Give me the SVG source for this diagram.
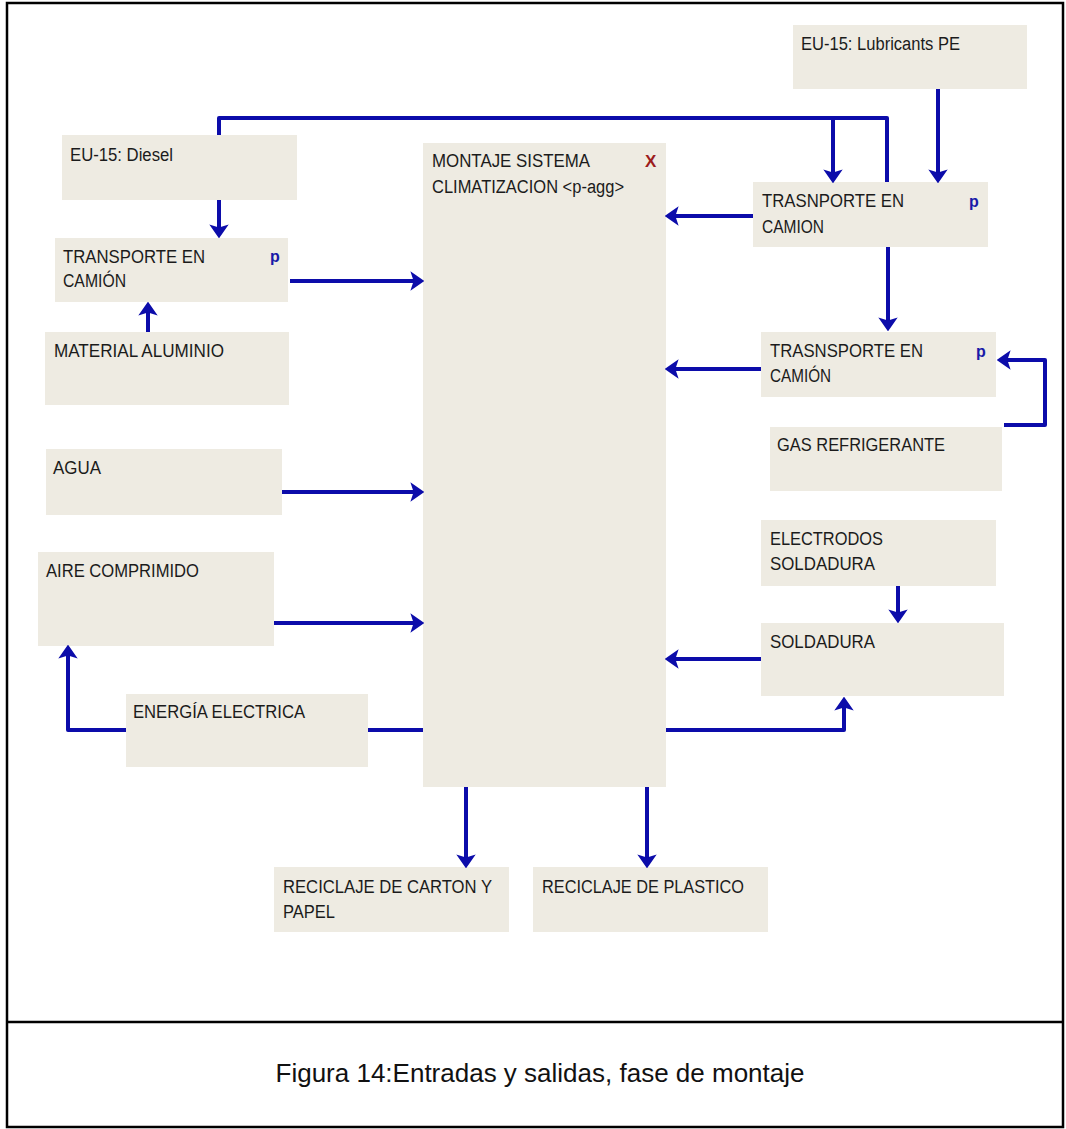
<svg xmlns="http://www.w3.org/2000/svg" width="1066" height="1129" viewBox="0 0 1066 1129">
<style>
.box{fill:#eeebe2}
.t{font-family:"Liberation Sans",Arial,sans-serif;font-size:18px;fill:#1b1b1b}
.p{font-family:"Liberation Sans",Arial,sans-serif;font-size:16px;font-weight:bold;fill:#1a1aa8}
.x{font-family:"Liberation Sans",Arial,sans-serif;font-size:17px;font-weight:bold;fill:#9c1c1c}
.c{fill:none;stroke:#0c0caa;stroke-width:4;stroke-linejoin:round}
.a{marker-end:url(#ah)}
.cap{font-family:"Liberation Sans",Arial,sans-serif;font-size:26px;fill:#111}
</style>
<defs>
<marker id="ah" markerUnits="userSpaceOnUse" markerWidth="14" markerHeight="20" viewBox="0 0 13 18" refX="8" refY="9" orient="auto">
<path d="M0,0 L13,9 L0,18 L3,9 z" fill="#0c0caa"/>
</marker>
</defs>
<rect x="7" y="3" width="1056" height="1124" fill="#fff" stroke="#000" stroke-width="2.5"/>
<line x1="7" y1="1022" x2="1063" y2="1022" stroke="#000" stroke-width="2.5"/>

<g id="n-lubricants"><rect class="box" x="793" y="25" width="234" height="64"/><text class="t" x="801" y="50" textLength="159" lengthAdjust="spacingAndGlyphs">EU-15: Lubricants PE</text></g>
<g id="n-diesel"><rect class="box" x="62" y="135" width="235" height="65"/><text class="t" x="70" y="161" textLength="103" lengthAdjust="spacingAndGlyphs">EU-15: Diesel</text></g>
<g id="n-trasnporte"><rect class="box" x="753" y="182" width="235" height="65"/><text class="t" x="762" y="207" textLength="142" lengthAdjust="spacingAndGlyphs">TRASNPORTE EN</text><text class="t" x="762" y="233" textLength="62" lengthAdjust="spacingAndGlyphs">CAMION</text><text class="p" x="969" y="207">p</text></g>
<g id="n-montaje"><rect class="box" x="423" y="143" width="243" height="644"/><text class="t" x="432" y="167" textLength="158" lengthAdjust="spacingAndGlyphs">MONTAJE SISTEMA</text><text class="t" x="432" y="193" textLength="192" lengthAdjust="spacingAndGlyphs">CLIMATIZACION &lt;p-agg&gt;</text><text class="x" x="645" y="167">X</text></g>
<g id="n-transporte"><rect class="box" x="55" y="238" width="233" height="64"/><text class="t" x="63" y="263" textLength="142" lengthAdjust="spacingAndGlyphs">TRANSPORTE EN</text><text class="t" x="63" y="287" textLength="63" lengthAdjust="spacingAndGlyphs">CAMIÓN</text><text class="p" x="270" y="262">p</text></g>
<g id="n-aluminio"><rect class="box" x="45" y="332" width="244" height="73"/><text class="t" x="54" y="357" textLength="170" lengthAdjust="spacingAndGlyphs">MATERIAL ALUMINIO</text></g>
<g id="n-trasnsporte"><rect class="box" x="761" y="332" width="235" height="65"/><text class="t" x="770" y="357" textLength="153" lengthAdjust="spacingAndGlyphs">TRASNSPORTE EN</text><text class="t" x="770" y="382" textLength="61" lengthAdjust="spacingAndGlyphs">CAMIÓN</text><text class="p" x="976" y="357">p</text></g>
<g id="n-gas"><rect class="box" x="770" y="427" width="232" height="64"/><text class="t" x="777" y="451" textLength="168" lengthAdjust="spacingAndGlyphs">GAS REFRIGERANTE</text></g>
<g id="n-agua"><rect class="box" x="46" y="449" width="236" height="66"/><text class="t" x="53" y="474" textLength="48" lengthAdjust="spacingAndGlyphs">AGUA</text></g>
<g id="n-electrodos"><rect class="box" x="761" y="520" width="235" height="66"/><text class="t" x="770" y="545" textLength="113" lengthAdjust="spacingAndGlyphs">ELECTRODOS</text><text class="t" x="770" y="570" textLength="105" lengthAdjust="spacingAndGlyphs">SOLDADURA</text></g>
<g id="n-aire"><rect class="box" x="38" y="552" width="236" height="94"/><text class="t" x="46" y="577" textLength="153" lengthAdjust="spacingAndGlyphs">AIRE COMPRIMIDO</text></g>
<g id="n-soldadura"><rect class="box" x="761" y="623" width="243" height="73"/><text class="t" x="770" y="648" textLength="105" lengthAdjust="spacingAndGlyphs">SOLDADURA</text></g>
<g id="n-energia"><rect class="box" x="126" y="694" width="242" height="73"/><text class="t" x="133" y="718" textLength="172" lengthAdjust="spacingAndGlyphs">ENERGÍA ELECTRICA</text></g>
<g id="n-carton"><rect class="box" x="274" y="867" width="235" height="65"/><text class="t" x="283" y="893" textLength="209" lengthAdjust="spacingAndGlyphs">RECICLAJE DE CARTON Y</text><text class="t" x="283" y="918" textLength="52" lengthAdjust="spacingAndGlyphs">PAPEL</text></g>
<g id="n-plastico"><rect class="box" x="533" y="867" width="235" height="65"/><text class="t" x="542" y="893" textLength="202" lengthAdjust="spacingAndGlyphs">RECICLAJE DE PLASTICO</text></g>

<g id="connectors">
<path class="c a" d="M219,135 V118 H833 V178"/>
<path class="c" d="M887,182 V118 H833"/>
<path class="c a" d="M938,89 V178"/>
<path class="c a" d="M753,216 H670"/>
<path class="c a" d="M888,247 V326"/>
<path class="c a" d="M761,369 H670"/>
<path class="c a" d="M1004,425 H1045 V360 H1002"/>
<path class="c a" d="M898,586 V618"/>
<path class="c a" d="M761,659 H670"/>
<path class="c a" d="M666,730 H844 V702"/>
<path class="c a" d="M290,281 H419"/>
<path class="c a" d="M148,332 V307"/>
<path class="c a" d="M219,200 V233"/>
<path class="c a" d="M282,492 H419"/>
<path class="c a" d="M274,623 H419"/>
<path class="c a" d="M126,730 H68 V650"/>
<path class="c" d="M368,730 H423"/>
<path class="c a" d="M466,787 V863"/>
<path class="c a" d="M647,787 V863"/>
</g>

<text class="cap" x="540" y="1082" text-anchor="middle">Figura 14:Entradas y salidas, fase de montaje</text>
</svg>
